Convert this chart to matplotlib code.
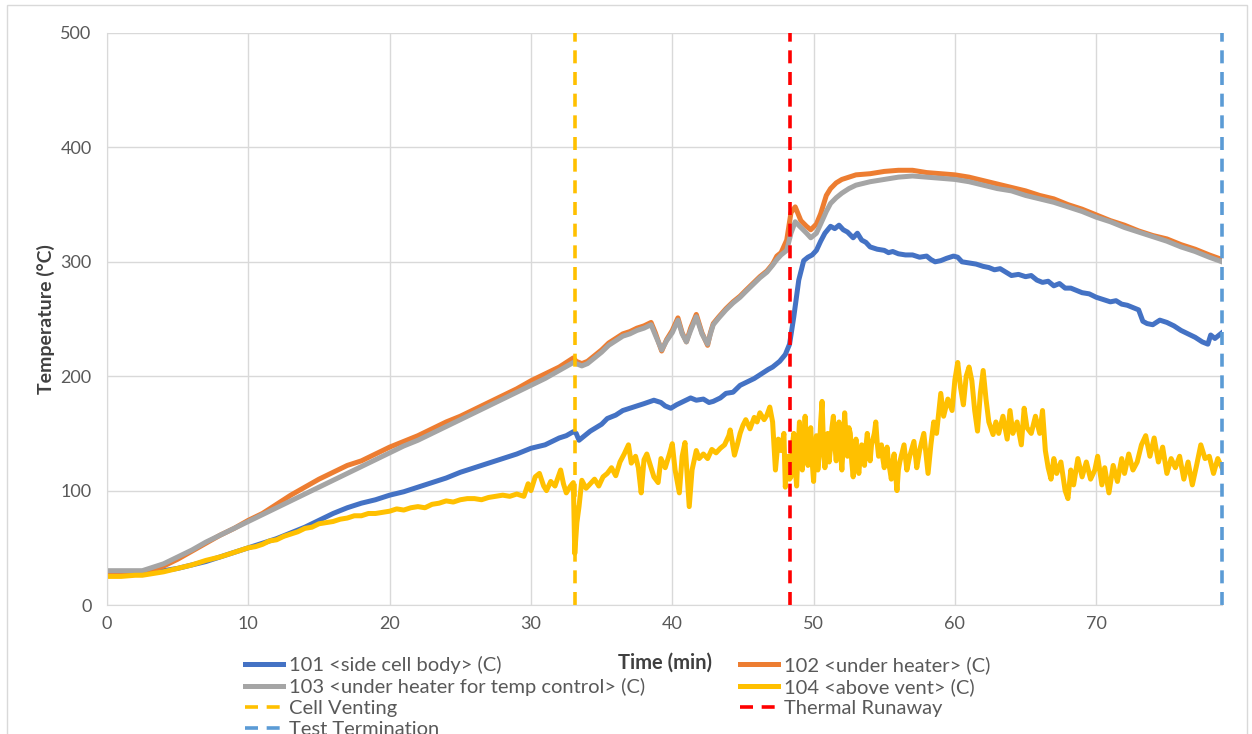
import numpy as np
from matplotlib import pyplot as plt
from matplotlib.patches import Rectangle

plt.rcParams['font.family'] = ['Lato', 'DejaVu Sans']

# 101 <side cell body>
t_101 = [0, 1, 2, 2.5, 3, 4, 5, 6, 7, 8, 9, 10, 11, 12, 13, 14, 15, 16, 17, 18, 19, 20, 21, 22, 23,
         24, 25, 26, 27, 28, 29, 30, 31, 32, 32.5, 33.0, 33.2, 33.4, 33.8, 34.2, 35, 35.4, 36, 36.5,
         37, 37.5, 38, 38.7, 39.2, 39.5, 39.9, 40.3, 40.8, 41.3, 41.7, 42.2, 42.6, 42.9, 43.4, 43.8,
         44.3, 44.8, 45.3, 45.8, 46.3, 46.8, 47.1, 47.6, 48.0, 48.3, 48.6, 48.95, 49.3, 49.6, 49.9,
         50.2, 50.5, 50.8, 51.2, 51.5, 51.8, 52.1, 52.4, 52.8, 53.1, 53.4, 53.7, 54.0, 54.5, 55.0,
         55.3, 55.6, 56.0, 56.5, 57.0, 57.5, 58.0, 58.3, 58.6, 59.0, 59.4, 59.9, 60.2, 60.5, 61.0,
         61.5, 62.0, 62.4, 62.8, 63.2, 63.6, 64.0, 64.5, 65.0, 65.4, 65.8, 66.2, 66.6, 67.0, 67.4,
         67.8, 68.2, 68.6, 69.0, 69.5, 70.0, 70.5, 71.0, 71.4, 71.8, 72.2, 72.6, 73.0, 73.3, 73.6,
         74.0, 74.5, 75.0, 75.5, 76.0, 76.5, 77.0, 77.5, 77.9, 78.1, 78.4, 78.9]
v_101 = [27, 27, 27, 27, 28, 30, 32, 35, 38, 42, 46, 50, 54, 58, 63, 68, 74, 80, 85, 89, 92, 96, 99,
         103, 107, 111, 116, 120, 124, 128, 132, 137, 140, 146, 148, 151.5, 150, 144, 148, 152, 158,
         163, 166, 170, 172, 174, 176, 179, 177, 174, 172, 175, 178, 181, 179, 180, 177, 178, 181,
         185, 186, 192, 195, 198, 202, 206, 208, 213, 219, 228, 252, 284, 301, 304, 306, 310, 318,
         325, 331, 329, 332, 328, 326, 321, 325, 319, 317, 313, 311, 310, 308, 309, 307, 306, 306,
         304, 305, 302, 300, 301, 303, 305, 304, 300, 299, 298, 296, 295, 293, 294, 291, 288, 289,
         287, 288, 284, 282, 283, 279, 281, 277, 277, 275, 273, 272, 269, 267, 265, 266, 263, 262,
         260, 258, 248, 246, 245, 249, 247, 244, 240, 237, 234, 230, 228, 236, 233, 238]

# 102 <under heater>
t_102 = [0, 1, 2, 2.5, 3, 4, 5, 6, 7, 8, 9, 10, 11, 12, 13, 14, 15, 16, 17, 18, 19, 20, 21, 22, 23,
         24, 25, 26, 27, 28, 29, 30, 31, 32, 33, 33.2, 33.6, 34, 34.5, 35, 35.5, 36, 36.5, 37, 37.5,
         38, 38.5, 38.8, 39.25, 39.6, 40, 40.4, 40.7, 41.0, 41.3, 41.7, 42.1, 42.5, 42.7, 42.9, 43.3,
         43.8, 44.3, 44.8, 45.2, 45.7, 46.2, 46.7, 47.1, 47.4, 47.7, 48.1, 48.4, 48.7, 49.1, 49.5,
         49.8, 50.2, 50.5, 50.9, 51.2, 51.6, 52, 52.5, 53, 54, 55, 56, 57, 58, 59, 60, 61, 62, 63,
         64, 65, 66, 67, 68, 69, 70, 71, 72, 73, 74, 75, 76, 77, 78, 78.9]
v_102 = [29, 29, 29, 29, 30, 34, 40, 47, 54, 61, 67, 74, 80, 88, 96, 103, 110, 116, 122, 126, 132,
         138, 143, 148, 154, 160, 165, 171, 177, 183, 189, 196, 202, 208, 216, 213, 211, 213, 218,
         223, 229, 233, 237, 239, 242, 244, 247, 238, 222, 232, 240, 251, 238, 230, 242, 254, 238,
         227, 238, 246, 252, 259, 265, 270, 275, 281, 287, 292, 298, 305, 308, 319, 343, 348, 336,
         331, 328, 333, 342, 358, 364, 369, 372, 374, 376, 377, 379, 380, 380, 378, 377, 376, 374,
         371, 368, 365, 362, 358, 355, 350, 346, 341, 336, 332, 327, 323, 320, 315, 311, 306, 302]

# 103 <under heater for temp control>
t_103 = t_102
v_103 = [30, 30, 30, 30, 32, 36, 42, 48, 55, 61, 67, 73, 79, 85, 91, 97, 103, 109, 115, 121, 127,
         133, 139, 144, 150, 156, 162, 168, 174, 180, 186, 192, 198, 205, 212, 211, 209, 211, 216,
         221, 227, 231, 235, 237, 240, 242, 245, 236, 223, 231, 238, 249, 237, 230, 240, 252, 237,
         228, 237, 245, 251, 258, 264, 269, 274, 280, 286, 291, 297, 302, 306, 310, 325, 335, 330,
         325, 321, 325, 333, 344, 351, 356, 360, 364, 367, 370, 372, 374, 375, 374, 373, 372, 370,
         367, 364, 362, 358, 355, 352, 348, 344, 339, 335, 330, 326, 322, 318, 313, 309, 304, 300]

# 104 <above vent>, read in three stretches
t_104a = [0, 1, 2, 2.5, 3, 4, 5, 6, 7, 8, 9, 10, 10.5, 11, 11.5, 12, 12.5, 13, 13.5, 14, 14.5, 15,
          15.5, 16, 16.5, 17, 17.5, 18, 18.5, 19, 19.5, 20, 20.5, 21, 21.5, 22, 22.5, 23, 23.5, 24,
          24.5, 25, 25.5, 26, 26.5, 27, 27.5, 28, 28.5, 29, 29.5, 29.8, 30.0, 30.3, 30.6, 30.9, 31.1,
          31.4, 31.7, 32.1, 32.3, 32.5, 32.8, 33.0, 33.1, 33.25, 33.4, 33.6, 33.9, 34.2, 34.5, 34.8,
          35.1, 35.4, 35.7, 36.0, 36.3, 36.6, 36.9, 37.1, 37.4, 37.6, 37.8, 38.0, 38.2, 38.5, 38.7,
          39.0, 39.2, 39.5, 39.8, 40.0, 40.2, 40.5, 40.7, 40.9, 41.2, 41.4, 41.7, 41.9, 42.2, 42.5,
          42.8, 43.1, 43.4, 43.7, 44.0, 44.1, 44.4, 44.6, 44.8, 45.0, 45.2, 45.5, 45.8, 46.0, 46.2,
          46.5, 46.7, 46.9, 47.1, 47.3, 47.5, 47.7, 47.9]
v_104a = [25, 25, 26, 26, 27, 29, 32, 35, 39, 42, 46, 50, 51, 53, 56, 57, 60, 62, 64, 67, 68, 71,
          72, 73, 75, 76, 78, 78, 80, 80, 81, 82, 84, 83, 85, 86, 85, 88, 89, 91, 90, 92, 93, 93, 92,
          94, 95, 96, 95, 97, 95, 106, 100, 112, 115, 104, 100, 108, 104, 118, 106, 98, 104, 107, 45,
          72, 86, 109, 102, 106, 110, 104, 112, 115, 120, 113, 125, 132, 140, 124, 130, 120, 98, 127,
          132, 120, 112, 107, 128, 120, 132, 141, 118, 98, 130, 142, 86, 118, 135, 128, 132, 128, 136,
          133, 137, 140, 148, 153, 131, 140, 150, 157, 162, 154, 164, 160, 168, 162, 166, 173, 160,
          118, 145, 135, 150]
t_104b = [48.0, 48.1, 48.2, 48.3, 48.4, 48.5, 48.6, 48.7, 48.8, 48.9, 49.0, 49.1, 49.2, 49.3, 49.4,
          49.5, 49.6, 49.7, 49.8, 49.9, 50.0, 50.1, 50.2, 50.3, 50.4, 50.5, 50.6, 50.7, 50.8, 50.9,
          51.0, 51.1, 51.2, 51.3, 51.4, 51.5, 51.6, 51.7, 51.8, 51.9, 52.0, 52.1, 52.2, 52.3, 52.4,
          52.5, 52.6, 52.7, 52.8, 52.9, 53.0, 53.1, 53.2, 53.3, 53.4, 53.5, 53.6, 53.7, 53.8, 53.9,
          54.0, 54.1, 54.2, 54.3, 54.4, 54.5, 54.6, 54.7, 54.8, 54.9, 55.0, 55.1, 55.2, 55.3, 55.4,
          55.5, 55.6, 55.7, 55.8, 55.9, 56.0]
v_104b = [103, 125, 130, 110, 112, 140, 150, 120, 104, 135, 160, 130, 118, 145, 165, 140, 122, 150,
          155, 125, 108, 135, 148, 118, 130, 160, 178, 140, 120, 135, 150, 125, 138, 155, 165, 140,
          126, 145, 160, 135, 118, 140, 168, 145, 130, 155, 150, 125, 112, 130, 145, 128, 115, 130,
          140, 132, 122, 138, 150, 135, 126, 140, 145, 150, 160, 142, 130, 135, 140, 128, 120, 130,
          138, 125, 118, 110, 125, 132, 115, 100, 118]
t_104c = [56.1, 56.4, 56.6, 56.8, 57.1, 57.3, 57.5, 57.8, 58.1, 58.3, 58.5, 58.7, 59.0, 59.2, 59.5,
          59.8, 60.0, 60.2, 60.4, 60.6, 60.8, 61.0, 61.2, 61.4, 61.6, 61.8, 62.0, 62.2, 62.4, 62.7,
          62.9, 63.1, 63.4, 63.7, 63.9, 64.1, 64.4, 64.7, 64.9, 65.1, 65.4, 65.7, 66.0, 66.2, 66.4,
          66.6, 66.8, 67.0, 67.2, 67.5, 67.8, 68.0, 68.2, 68.4, 68.7, 69.0, 69.3, 69.6, 69.9, 70.1,
          70.4, 70.6, 70.9, 71.2, 71.5, 71.8, 72.0, 72.3, 72.6, 72.9, 73.2, 73.5, 73.8, 74.1, 74.4,
          74.7, 75.0, 75.3, 75.6, 75.9, 76.2, 76.5, 76.8, 77.1, 77.4, 77.7, 78.0, 78.3, 78.6, 78.9]
v_104c = [125, 140, 118, 130, 143, 120, 135, 150, 115, 140, 160, 150, 185, 165, 180, 170, 197, 212,
          190, 175, 200, 208, 196, 170, 152, 185, 205, 180, 160, 149, 160, 150, 165, 145, 170, 150,
          160, 140, 172, 155, 150, 165, 150, 170, 135, 120, 110, 128, 115, 125, 100, 93, 118, 105,
          128, 112, 125, 110, 118, 130, 105, 120, 98, 122, 108, 128, 115, 132, 118, 125, 140, 148,
          130, 146, 125, 138, 115, 128, 120, 130, 110, 125, 105, 122, 140, 128, 130, 115, 128, 120]
t_104 = t_104a + t_104b + t_104c
v_104 = v_104a + v_104b + v_104c

# event markers (min)
t_venting = 33.1
t_runaway = 48.3
t_termination = 78.9

x_ticks = [0, 10, 20, 30, 40, 50, 60, 70]
y_ticks = [0, 100, 200, 300, 400, 500]

fig = plt.figure(figsize=(12.52, 7.34), dpi=100)
ax = fig.add_axes([107 / 1252, 1 - 605 / 734, 1115 / 1252, 572 / 734])

lw = 3.6
l101, = ax.plot(t_101, v_101, color='#4472C4', lw=lw, solid_joinstyle='round',
                label='101 <side cell body> (C)')
l102, = ax.plot(t_102, v_102, color='#ED7D31', lw=lw, solid_joinstyle='round',
                label='102 <under heater> (C)')
l103, = ax.plot(t_103, v_103, color='#A5A5A5', lw=lw, solid_joinstyle='round',
                label='103 <under heater for temp control> (C)')
l104, = ax.plot(t_104, v_104, color='#FFC000', lw=lw, solid_joinstyle='round',
                label='104 <above vent> (C)')

dash = (0, (3.6, 2.4))
l_vent, = ax.plot([t_venting, t_venting], [0, 500], color='#FFC000', lw=2.6, ls=dash,
                  label='Cell Venting')
l_run, = ax.plot([t_runaway, t_runaway], [0, 500], color='#FF0000', lw=2.6, ls=dash,
                 label='Thermal Runaway')
l_term, = ax.plot([t_termination, t_termination], [0, 500], color='#5B9BD5', lw=2.6, ls=dash,
                  label='Test Termination', clip_on=False)

ax.set_xlim(0, 78.9)
ax.set_ylim(0, 500)
ax.set_xticks(x_ticks)
ax.set_yticks(y_ticks)
ax.grid(True, color='#D9D9D9', lw=1)
ax.set_axisbelow(True)
for side in ['top', 'right']:
    ax.spines[side].set_visible(False)
for side in ['left', 'bottom']:
    ax.spines[side].set_color('#D9D9D9')
ax.tick_params(length=0, labelsize=13, colors='#595959')
ax.tick_params(axis='y', pad=11)
ax.tick_params(axis='x', pad=8)

ax.set_xlabel('Time (min)', fontsize=14.5, fontweight='bold', color='#404040')
ax.set_ylabel('Temperature (°C)', fontsize=14, fontweight='bold', color='#404040')
ax.xaxis.set_label_coords(0.5, -0.083)
ax.yaxis.set_label_coords(-0.047, 0.5)

leg_kw = dict(frameon=False, fontsize=14.5, handlelength=1.9, handletextpad=0.3,
              labelspacing=0.2, borderpad=0, borderaxespad=0, loc='upper left')
leg1 = fig.legend(handles=[l101, l103, l_vent, l_term], bbox_to_anchor=(245 / 1252, 1 - 656 / 734),
                  **leg_kw)
leg2 = fig.legend(handles=[l102, l104, l_run], bbox_to_anchor=(740 / 1252, 1 - 656 / 734), **leg_kw)
for leg in [leg1, leg2]:
    for txt in leg.get_texts():
        txt.set_color('#595959')

# chart area border
fig.patches.append(Rectangle((7 / 1252, -0.1), 1240 / 1252, 1.1 - 5 / 734, transform=fig.transFigure,
                             fill=False, edgecolor='#D9D9D9', lw=1))

fig.savefig('out.png', dpi=100)
